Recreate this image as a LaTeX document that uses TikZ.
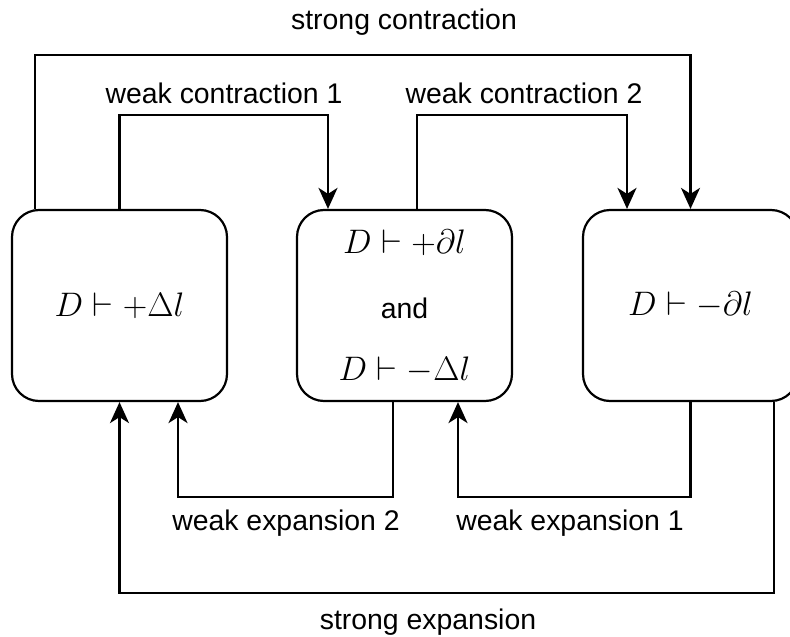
\RequirePackage{fix-cm}
\documentclass[tikz,border=0pt]{standalone}
\usepackage{fontspec}
\setmainfont{Liberation Sans}
\usetikzlibrary{arrows.meta}

\begin{document}
\begin{tikzpicture}[x=1pt,y=-1pt,
  box/.style={draw, line width=2.2pt, rounded corners=27pt,
              minimum width=215pt, minimum height=191pt, inner sep=0pt},
  link/.style={line width=2.2pt, line join=miter,
               -{Stealth[length=21pt,width=19pt,inset=6pt]}},
  lbl/.style={font=\fontsize{28.4}{34}\selectfont, inner sep=0pt},
  mth/.style={font=\fontsize{34}{40}\selectfont, inner sep=0pt}]
\useasboundingbox (0,0) rectangle (790,637);

% the three states
\node[box] (b1) at (119.5,305.5) {};
\node[box] (b2) at (404.5,305.5) {};
\node[box] (b3) at (690.5,305.5) {};

\node[mth] (m1) at (b1.center) {$D\vdash +\Delta l$};
\node[mth] (m2a) at ([yshift=62.5pt]b2.center) {$D\vdash +\partial l$};
\node[lbl] (m2b) at ([yshift=-2.5pt]b2.center) {and};
\node[mth] (m2c) at ([yshift=-64.5pt]b2.center) {$D\vdash -\Delta l$};
\node[mth] (m3) at (b3.center) {$D\vdash -\partial l$};

% levels of the routed connectors
\coordinate (scY) at (0,55);
\coordinate (wcY) at (0,115);
\coordinate (weY) at (0,497);
\coordinate (seY) at (0,593);

% connector ends on the boxes
\coordinate (s1) at ([xshift=-84.5pt]b1.north);
\coordinate (t2) at ([xshift=-76.5pt]b2.north);
\coordinate (s2) at ([xshift=12.5pt]b2.north);
\coordinate (t3) at ([xshift=-63.5pt]b3.north);
\coordinate (s2b) at ([xshift=-11.5pt]b2.south);
\coordinate (t1b) at ([xshift=58.5pt]b1.south);
\coordinate (t2b) at ([xshift=53.5pt]b2.south);
\coordinate (s3b) at ([xshift=83.5pt]b3.south);

% contractions
\draw[link] (s1) |- (b3.north |- scY) -- (b3.north);
\draw[link] (b1.north) |- (t2 |- wcY) -- (t2);
\draw[link] (s2) |- (t3 |- wcY) -- (t3);

% expansions
\draw[link] (s2b) |- (t1b |- weY) -- (t1b);
\draw[link] (b3.south) |- (t2b |- weY) -- (t2b);
\draw[link] (s3b) |- (b1.south |- seY) -- (b1.south);

% connector labels
\node[lbl] (l1) at (404,22) {strong contraction};
\node[lbl] (l2) at (224,93) {weak contraction 1};
\node[lbl] (l3) at (524,93) {weak contraction 2};
\node[lbl] (l4) at (286,523) {weak expansion 2};
\node[lbl] (l5) at (570,523) {weak expansion 1};
\node[lbl] (l6) at (428,622) {strong expansion};
\end{tikzpicture}
\end{document}
